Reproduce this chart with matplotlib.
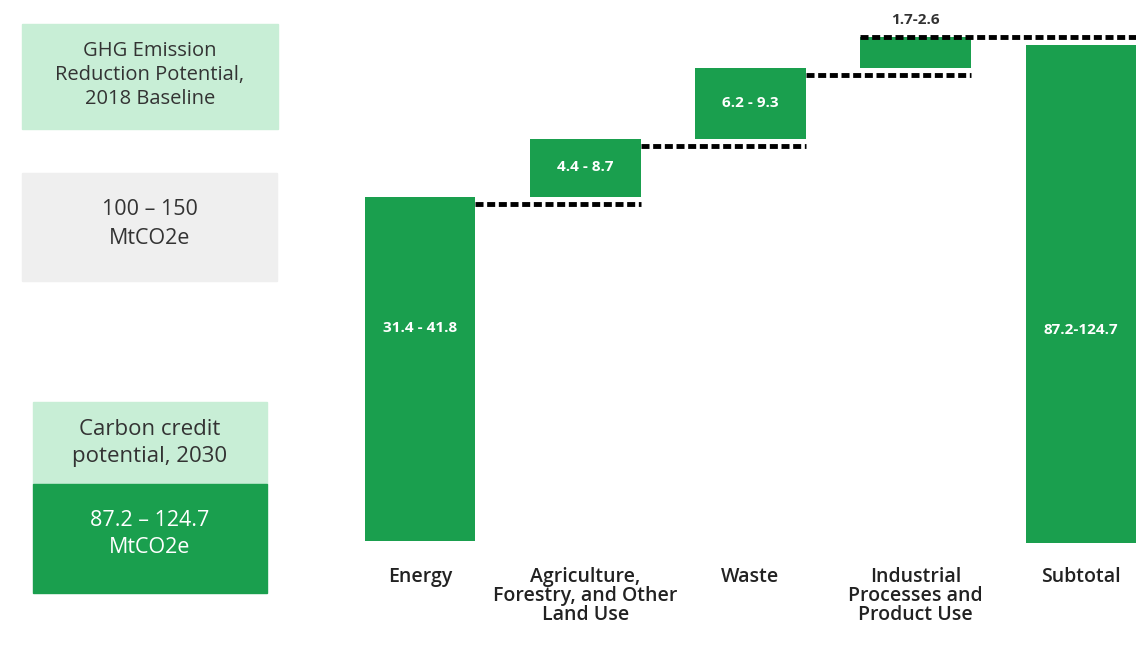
import matplotlib.pyplot as plt
from matplotlib.patches import Rectangle

plt.rcParams['font.family'] = ['Open Sans', 'DejaVu Sans']

# waterfall data (bar heights, arbitrary display units)
categories = ['Energy', 'Agriculture,\nForestry, and Other\nLand Use', 'Waste',
              'Industrial\nProcesses and\nProduct Use', 'Subtotal']
steps = [34.4, 5.8, 7.1, 3.1]
subtotal = 49.8
ranges = ['31.4 - 41.8', '4.4 - 8.7', '6.2 - 9.3', '1.7-2.6', '87.2-124.7']

green = '#1a9f4e'
light_green = '#c8eed6'
grey_box = '#efefef'

fig = plt.figure(figsize=(11.36, 6.48), dpi=100)

# chart axes over the whole figure
ax = fig.add_axes([0, 0, 1, 1])
ax.set_xlim(-2.5416, 4.3328)
ax.set_ylim(-10.7, 54.1)
ax.axis('off')

w = 0.67
bases = []
b = 0
for s in steps:
    bases.append(b)
    b += s
xs = list(range(len(categories)))
ax.bar(xs[:4], steps, bottom=bases, width=w, color=green, zorder=2)
ax.bar(xs[4], subtotal, bottom=-0.2, width=w, color=green, zorder=2)

# dashed connectors
tops = [bases[i] + steps[i] for i in range(4)]
dash = dict(color='black', lw=3.5, dashes=(1.65, 0.75), dash_capstyle='butt', zorder=3)
for i in range(3):
    ax.plot([xs[i] + w / 2, xs[i + 1] + w / 2], [tops[i] - 0.7, tops[i] - 0.7], **dash)
ax.plot([xs[3] - w / 2, 4.3328], [tops[3], tops[3]], **dash)

# value labels
lab = dict(color='white', ha='center', va='center', fontsize=11, fontweight='bold')
ax.text(0, 21.3, ranges[0], **lab)
ax.text(1, bases[1] + 3.0, ranges[1], **lab)
ax.text(2, bases[2] + 3.6, ranges[2], **lab)
ax.text(3, tops[3] + 1.7, ranges[3], color='#333333', ha='center', va='center',
        fontsize=11, fontweight='bold')
ax.text(4, 21.1, ranges[4], **lab)

for x, c in zip(xs, categories):
    ax.text(x, -2.6, c, ha='center', va='top', fontsize=14, color='#222222',
            linespacing=0.92, fontweight='semibold')

# left panel in pixel coordinates
lp = fig.add_axes([0, 0, 1, 1])
lp.set_xlim(0, 1136)
lp.set_ylim(648, 0)
lp.axis('off')
lp.patch.set_alpha(0)

lp.add_patch(Rectangle((22, 24), 256, 105, color=light_green))
lp.text(150, 75, 'GHG Emission\nReduction Potential,\n2018 Baseline', ha='center', va='center',
        fontsize=14.5, color='#333333', linespacing=1.3)
lp.add_patch(Rectangle((22, 173), 255, 108, color=grey_box))
lp.text(150, 224, '100 – 150\nMtCO2e', ha='center', va='center', fontsize=15.5,
        color='#333333', linespacing=1.45)
lp.add_patch(Rectangle((33, 402), 234, 82, color=light_green))
lp.text(150, 443, 'Carbon credit\npotential, 2030', ha='center', va='center', fontsize=16,
        color='#333333', linespacing=1.35)
lp.add_patch(Rectangle((33, 484), 234, 109, color=green))
lp.text(150, 534, '87.2 – 124.7\nMtCO2e', ha='center', va='center', fontsize=15.5,
        color='white', linespacing=1.4)

fig.savefig('out.png', dpi=100)
